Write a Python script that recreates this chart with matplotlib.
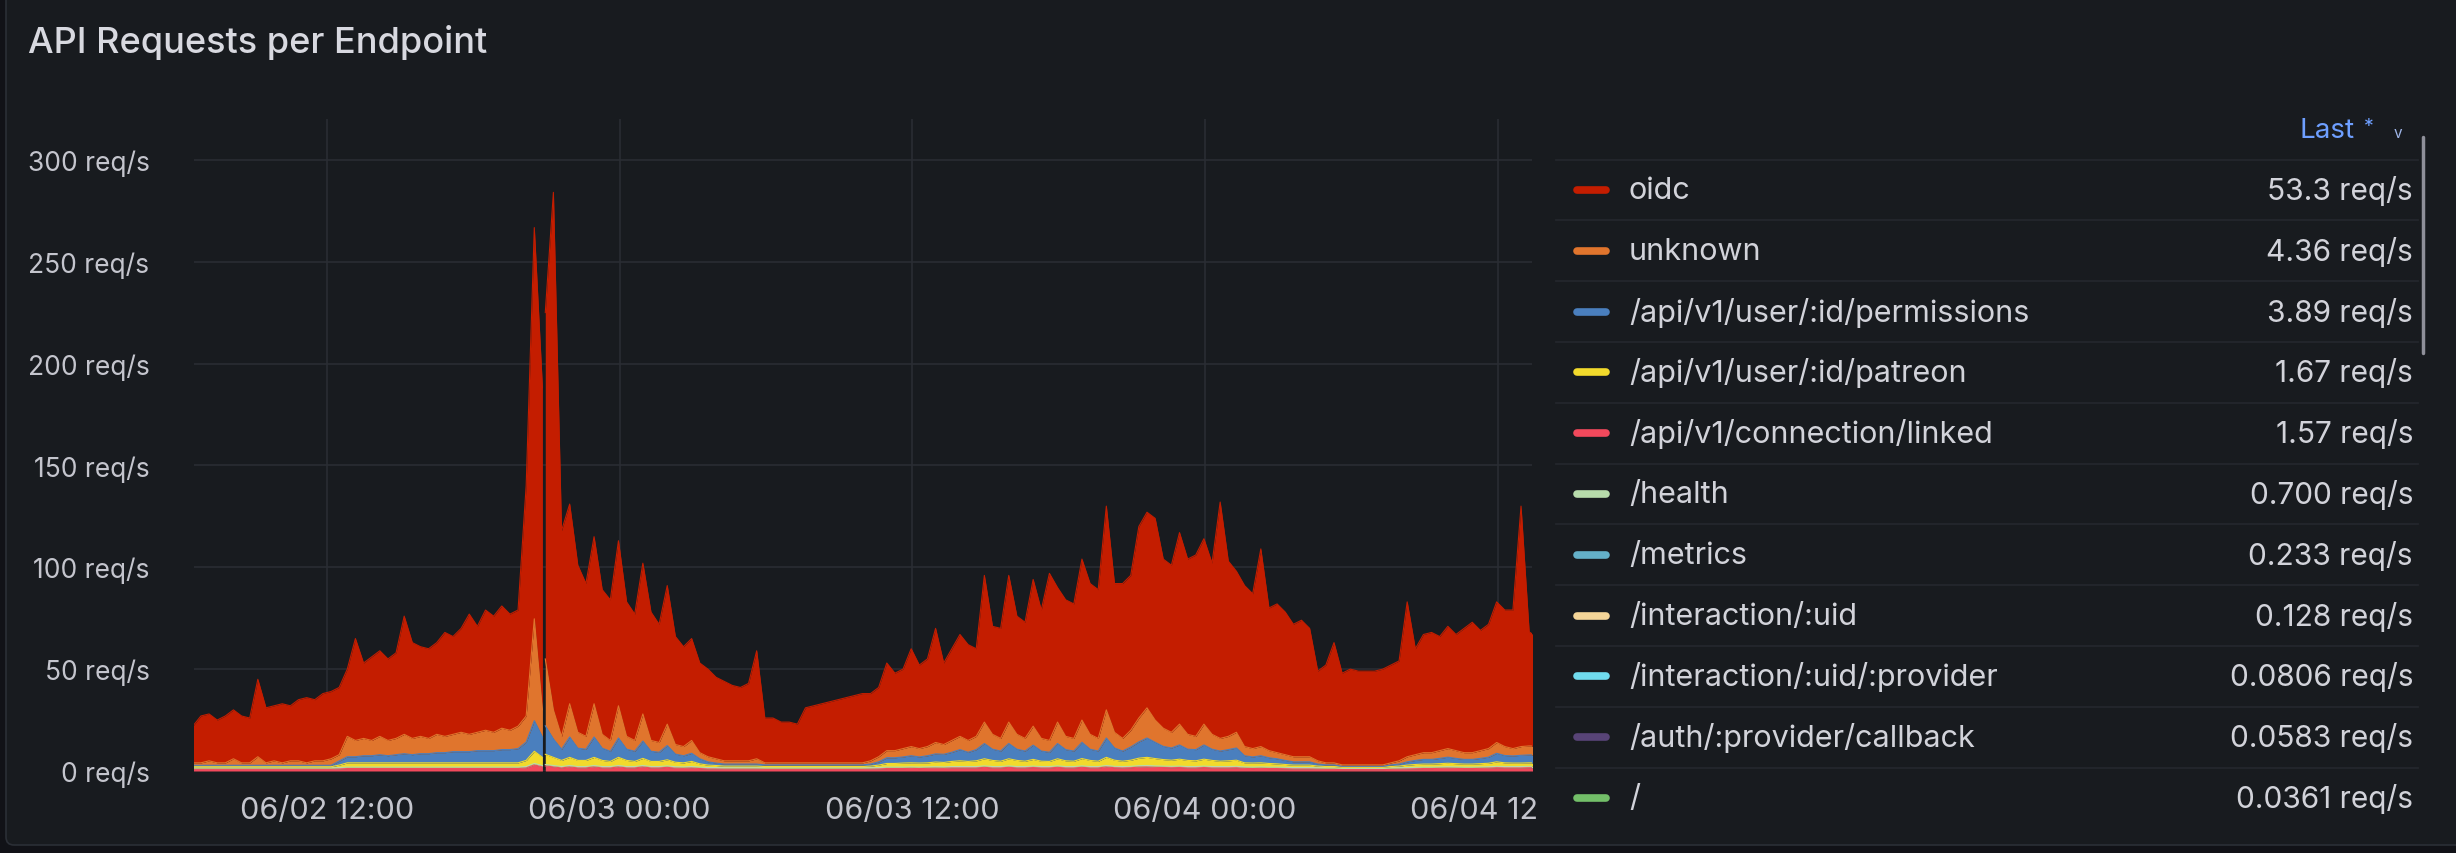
import numpy as np
import pandas as pd
import matplotlib
matplotlib.use("Agg")
import matplotlib.pyplot as plt
import matplotlib.dates as mdates
from matplotlib.ticker import MultipleLocator, FuncFormatter
from matplotlib.patches import FancyBboxPatch

plt.rcParams['font.family'] = ['Inter', 'DejaVu Sans']

BG = '#181b1f'
CANVAS = '#111217'
GRID = '#2a2d33'
TEXT = '#ccccdc'

# sample times, 20 min steps. a few minutes of data are missing around 20:52 on 06/02
times_a = pd.date_range('2023-06-02 06:30', periods=44, freq='20min')
times_b = pd.date_range('2023-06-02 20:57', periods=123, freq='20min')

# req/s per endpoint, first 44 values belong to times_a, the rest to times_b
oidc_rps = [18, 23, 23, 21, 23, 24, 23, 22, 38, 27, 27, 29, 27, 30, 32, 30, 33, 33, 33, 33,
            50, 37, 41, 42, 40, 42, 58, 47, 44, 44, 45, 51, 48, 51, 59, 52, 59, 57, 60, 57,
            57, 113, 192, 158,
            170, 254, 101, 98, 82, 75, 82, 71, 69, 81,
            66, 62, 74, 63, 58, 68, 53, 49, 50, 44,
            43, 40, 39, 37, 36, 38, 53, 22, 22, 20,
            20, 19, 27, 28, 29, 30, 31, 32, 33, 34,
            33, 34, 43, 38, 39, 48, 41, 43, 56, 40,
            45, 50, 47, 43, 72, 53, 54, 72, 58, 57,
            72, 63, 82, 66, 67, 66, 79, 74, 73, 100,
            73, 76, 76, 94, 96, 99, 83, 82, 94, 86,
            89, 91, 84, 116, 86, 79, 79, 76, 97, 70,
            73, 70, 65, 67, 63, 44, 48, 59, 45, 47,
            46, 46, 46, 47, 48, 49, 76, 52, 58, 59,
            56, 60, 57, 61, 64, 59, 61, 69, 67, 68,
            118, 56, 53.3]

unknown_rps = [1.2, 1.2, 2.2, 1.2, 1.2, 3.2, 1.2, 1.2, 4.2, 1.2, 2.2, 1.2, 2.2, 2.2, 1.2, 2.2, 2.2, 3.2,
               3.1, 10, 8, 8.5, 7.5, 9, 7.5, 8, 9.5, 8, 8.5, 7.5, 9, 8, 8.5, 9.5, 8.5, 9, 10, 9,
               10.5, 9.5, 11, 12.8, 50, 13.3,
               32.8, 14.3, 6.3, 16.3, 7.8, 6.3, 16.3, 6.8, 5.3, 15.8,
               6.3, 5.3, 13.3, 5.3, 4.8, 10.5, 4.7, 4.5, 6.3, 3,
               2.5, 2.1, 1.6, 1.6, 1.6, 1.6, 2.6, 1, 1, 1,
               1, 1, 1, 1, 1, 1, 1, 1, 1, 1,
               1.6, 2.5, 3.5, 3.5, 4.1, 4.5, 4.1, 4.5, 5.6, 4.8,
               5.8, 6.5, 5.8, 6.5, 10.5, 7.3, 6.2, 10.5, 7.3, 6.2,
               9.3, 6.2, 5.8, 10.5, 6.5, 6.2, 10.9, 7.3, 6.2, 13.8,
               7.7, 6.2, 8.2, 11.7, 14.8, 10.9, 8.9, 7.7, 10.2, 7.3,
               6.5, 10.2, 7.3, 6.2, 6.5, 7.7, 4.5, 4.1, 4.5, 3.5,
               3, 2.8, 2.5, 2.5, 2.5, 1.6, 1, 1, 0.7, 0.7,
               0.7, 0.7, 0.7, 0.7, 1, 1.6, 2.5, 2.8, 3.3, 3.3,
               3.8, 4.2, 3.8, 3.3, 3.3, 3.8, 4.2, 5.3, 4.4, 3.6,
               4.3, 4.4, 4.36]

permissions_rps = [0.7, 0.7, 0.7, 0.7, 0.7, 0.7, 0.7, 0.7, 0.7, 0.7, 0.7, 0.7, 0.7, 0.7, 0.7, 0.7, 0.7, 0.7,
                   2, 3, 3, 3.5, 3.5, 4, 3.5, 4, 4.5, 4, 4.5, 4.5, 5, 5, 5.5, 5.5, 5.5, 6, 6, 6,
                   6.5, 6.5, 7, 9, 15, 10,
                   14, 9, 5.5, 10, 6, 5.5, 10, 6, 5, 9.5,
                   5.5, 5, 8.5, 5, 4.5, 7, 4, 3.5, 4, 2.5,
                   1.6, 1.2, 1, 1, 1, 1, 1, 0.8, 0.8, 0.8,
                   0.8, 0.8, 0.8, 0.8, 0.8, 0.8, 0.8, 0.8, 0.8, 0.8,
                   1, 1.6, 2.8, 2.8, 3, 3.5, 3, 3.5, 4, 4,
                   4.5, 5.5, 4.5, 5.5, 7.5, 5.5, 5, 7.5, 5.5, 5,
                   7, 5, 4.5, 7.5, 5.5, 5, 8, 5.5, 5, 9.5,
                   6, 5, 6.5, 8, 9.5, 8, 6.5, 6, 7, 5.5,
                   5.5, 7, 5.5, 5, 5.5, 6, 3.5, 3, 3.5, 2.8,
                   2.5, 2, 1.6, 1.6, 1.6, 1, 0.8, 0.8, 0.5, 0.5,
                   0.5, 0.5, 0.5, 0.5, 0.8, 1, 1.6, 2, 2.3, 2.3,
                   2.6, 3, 2.6, 2.3, 2.3, 2.6, 3, 4.2, 3.6, 3.5,
                   3.8, 3.9, 3.89]

patreon_rps = [0.6, 0.6, 0.6, 0.6, 0.6, 0.6, 0.6, 0.6, 0.6, 0.6, 0.6, 0.6, 0.6, 0.6, 0.6, 0.6, 0.6, 0.6,
               1.2, 2.1, 2.1, 2.1, 2.1, 2.1, 2.1, 2.1, 2.1, 2.1, 2.1, 2.1, 2.1, 2.1, 2.1, 2.1, 2.1, 2.1, 2.1, 2.1,
               2.1, 2.1, 2.1, 3, 6, 4,
               5, 4, 3, 4, 3, 3, 4, 3, 2.5, 4,
               3, 2.5, 3.5, 2.5, 2.5, 3, 2.2, 2, 2.5, 1.6,
               1.2, 1, 0.8, 0.8, 0.8, 0.8, 0.8, 0.7, 0.7, 0.7,
               0.7, 0.7, 0.7, 0.7, 0.7, 0.7, 0.7, 0.7, 0.7, 0.7,
               0.8, 1.2, 1.8, 1.8, 2, 2, 2, 2, 2.3, 2.2,
               2.5, 2.8, 2.5, 2.8, 3.5, 3, 2.6, 3.5, 3, 2.6,
               3.3, 2.6, 2.5, 3.5, 2.8, 2.6, 3.6, 3, 2.6, 4,
               3, 2.6, 3, 3.7, 4, 3.6, 3.2, 3, 3.4, 3,
               2.8, 3.4, 3, 2.6, 2.8, 3, 2, 2, 2, 1.8,
               1.6, 1.4, 1.2, 1.2, 1.2, 0.8, 0.7, 0.7, 0.5, 0.5,
               0.5, 0.5, 0.5, 0.5, 0.7, 0.8, 1.2, 1.4, 1.5, 1.5,
               1.6, 1.7, 1.6, 1.5, 1.5, 1.6, 1.7, 2.2, 1.8, 1.7,
               1.7, 1.7, 1.67]

linked_rps = [0.8, 0.8, 0.8, 0.8, 0.8, 0.8, 0.8, 0.8, 0.8, 0.8, 0.8, 0.8, 0.8, 0.8, 0.8, 0.8, 0.8, 0.8,
              1.0, 1.2, 1.2, 1.2, 1.2, 1.2, 1.2, 1.2, 1.2, 1.2, 1.2, 1.2, 1.2, 1.2, 1.2, 1.2, 1.2, 1.2, 1.2, 1.2,
              1.2, 1.2, 1.2, 1.5, 3, 2,
              2.5, 2, 1.5, 2, 1.5, 1.5, 2, 1.5, 1.5, 2,
              1.5, 1.5, 2, 1.5, 1.5, 1.8, 1.4, 1.3, 1.5, 1.2,
              1, 1, 0.9, 0.9, 0.9, 0.9, 0.9, 0.8, 0.8, 0.8,
              0.8, 0.8, 0.8, 0.8, 0.8, 0.8, 0.8, 0.8, 0.8, 0.8,
              0.9, 1, 1.2, 1.2, 1.2, 1.3, 1.2, 1.3, 1.4, 1.3,
              1.5, 1.5, 1.5, 1.5, 1.8, 1.5, 1.5, 1.8, 1.5, 1.5,
              1.7, 1.5, 1.5, 1.8, 1.5, 1.5, 1.8, 1.5, 1.5, 2,
              1.6, 1.5, 1.6, 1.9, 2, 1.8, 1.7, 1.6, 1.7, 1.5,
              1.5, 1.7, 1.5, 1.5, 1.5, 1.6, 1.3, 1.2, 1.3, 1.2,
              1.2, 1.1, 1, 1, 1, 0.9, 0.8, 0.8, 0.7, 0.7,
              0.7, 0.7, 0.7, 0.7, 0.8, 0.9, 1, 1.1, 1.2, 1.2,
              1.3, 1.4, 1.3, 1.2, 1.2, 1.3, 1.4, 1.6, 1.5, 1.5,
              1.5, 1.6, 1.57]

health_rps = [0.7, 0.7, 0.7, 0.7, 0.7, 0.7, 0.7, 0.7, 0.7, 0.7, 0.7, 0.7, 0.7, 0.7, 0.7, 0.7, 0.7, 0.7,
              0.7, 0.7, 0.7, 0.7, 0.7, 0.7, 0.7, 0.7, 0.7, 0.7, 0.7, 0.7, 0.7, 0.7, 0.7, 0.7, 0.7, 0.7, 0.7, 0.7,
              0.7, 0.7, 0.7, 0.7, 0.7, 0.7,
              0.7, 0.7, 0.7, 0.7, 0.7, 0.7, 0.7, 0.7, 0.7, 0.7,
              0.7, 0.7, 0.7, 0.7, 0.7, 0.7, 0.7, 0.7, 0.7, 0.7,
              0.7, 0.7, 0.7, 0.7, 0.7, 0.7, 0.7, 0.7, 0.7, 0.7,
              0.7, 0.7, 0.7, 0.7, 0.7, 0.7, 0.7, 0.7, 0.7, 0.7,
              0.7, 0.7, 0.7, 0.7, 0.7, 0.7, 0.7, 0.7, 0.7, 0.7,
              0.7, 0.7, 0.7, 0.7, 0.7, 0.7, 0.7, 0.7, 0.7, 0.7,
              0.7, 0.7, 0.7, 0.7, 0.7, 0.7, 0.7, 0.7, 0.7, 0.7,
              0.7, 0.7, 0.7, 0.7, 0.7, 0.7, 0.7, 0.7, 0.7, 0.7,
              0.7, 0.7, 0.7, 0.7, 0.7, 0.7, 0.7, 0.7, 0.7, 0.7,
              0.7, 0.7, 0.7, 0.7, 0.7, 0.7, 0.7, 0.7, 0.6, 0.6,
              0.6, 0.6, 0.6, 0.6, 0.7, 0.7, 0.7, 0.7, 0.7, 0.7,
              0.7, 0.7, 0.7, 0.7, 0.7, 0.7, 0.7, 0.7, 0.7, 0.7,
              0.7, 0.7, 0.70]

# legend table (sorted by last value like grafana does)
endpoints = ['oidc', 'unknown', '/api/v1/user/:id/permissions', '/api/v1/user/:id/patreon',
             '/api/v1/connection/linked', '/health', '/metrics', '/interaction/:uid',
             '/interaction/:uid/:provider', '/auth/:provider/callback', '/']
colors = ['#C41D00', '#E0752D', '#4A7FBE', '#F2DA2C', '#F2495C', '#B7DBAB',
          '#64B0C8', '#F4D598', '#70DBED', '#584477', '#73BF69']
last_rps = [53.3, 4.36, 3.89, 1.67, 1.57, 0.700, 0.233, 0.128, 0.0806, 0.0583, 0.0361]

# stacking order, bottom first
stack = [('/api/v1/connection/linked', linked_rps),
         ('/health', health_rps),
         ('/api/v1/user/:id/patreon', patreon_rps),
         ('/api/v1/user/:id/permissions', permissions_rps),
         ('unknown', unknown_rps),
         ('oidc', oidc_rps)]

times = times_a.append(times_b)
for name, vals in stack:
    if len(vals) != len(times):
        print(name, len(vals), len(times))

color_of = dict(zip(endpoints, colors))
cum = np.cumsum(np.array([v for _, v in stack], dtype=float), axis=0)

fig = plt.figure(figsize=(24.56, 8.54), dpi=100, facecolor=CANVAS)
panel = FancyBboxPatch((6, 8), 2600, 1000, boxstyle='round,pad=0,rounding_size=8',
                       transform=None, facecolor=BG, edgecolor='#2b2f36', lw=1.2, zorder=-10)
fig.add_artist(panel)

fig.text(28 / 2456, 1 - 42 / 854, 'API Requests per Endpoint', fontsize=26, color='#d8d9e0',
         fontweight='medium', va='center', ha='left')

ax = fig.add_axes([194 / 2456, 82 / 854, 1338 / 2456, 652 / 854])
ax.set_facecolor('none')

n_a = len(times_a)
for seg in (slice(0, n_a), slice(n_a, None)):
    t = times[seg]
    base = np.zeros(len(t))
    for i, (name, _) in enumerate(stack):
        top = cum[i][seg]
        ax.fill_between(t, base, top, color=color_of[name], lw=0, zorder=2)
        ax.plot(t, top, color=color_of[name], lw=0.8, zorder=3)
        base = top

ax.set_xlim(pd.Timestamp('2023-06-02 06:33'), pd.Timestamp('2023-06-04 13:24'))
ax.set_ylim(0, 320)
ax.yaxis.set_major_locator(MultipleLocator(50))
ax.yaxis.set_major_formatter(FuncFormatter(lambda v, p: f'{v:.0f} req/s' if v <= 300 else ''))
ax.xaxis.set_major_locator(mdates.HourLocator(byhour=[0, 12]))
ax.xaxis.set_major_formatter(mdates.DateFormatter('%m/%d %H:%M'))
ax.grid(True, color=GRID, lw=1.2, zorder=0)
ax.set_axisbelow(True)
for s in ax.spines.values():
    s.set_visible(False)
ax.tick_params(axis='y', length=0, pad=32, labelsize=19, labelcolor='#c4c5cd')
ax.tick_params(axis='x', length=0, pad=18, labelsize=22, labelcolor='#c4c5cd')

# legend table on the right, coordinates in pixels
lax = fig.add_axes([1538 / 2456, 14 / 854, 918 / 2456, 740 / 854])
lax.set_zorder(ax.get_zorder() + 1)
lax.set_facecolor(BG)
lax.set_xlim(1538, 2456)
lax.set_ylim(840, 100)
lax.axis('off')
lax.add_patch(plt.Rectangle((1538, 100), 918, 740, color=BG, zorder=0))

lax.text(2355, 131, 'Last', ha='right', va='center', fontsize=20, color='#6E9FFF')
lax.text(2369, 127, '*', ha='center', va='center', fontsize=14, color='#6E9FFF')
lax.text(2398, 133, 'v', ha='center', va='center', fontsize=11, color='#9fb6e8')
lax.plot([2423, 2423], [138, 354], color='#8f909a', lw=2.5, solid_capstyle='round')

row0, row_h = 191, 60.8
for i, (name, col, val) in enumerate(zip(endpoints, colors, last_rps)):
    y = row0 + i * row_h
    lax.plot([1556, 2418], [y - row_h / 2] * 2, color='#25282e', lw=1.2)
    lax.plot([1577, 1606], [y, y], color=col, lw=5.5, solid_capstyle='round')
    lax.text(1629, y, name, ha='left', va='center', fontsize=22, color='#d2d3da')
    lax.text(2413, y, f'{val:#.3g} req/s', ha='right', va='center', fontsize=21.5, color='#d2d3da')

fig.savefig('out.png', dpi=100, facecolor=CANVAS)
